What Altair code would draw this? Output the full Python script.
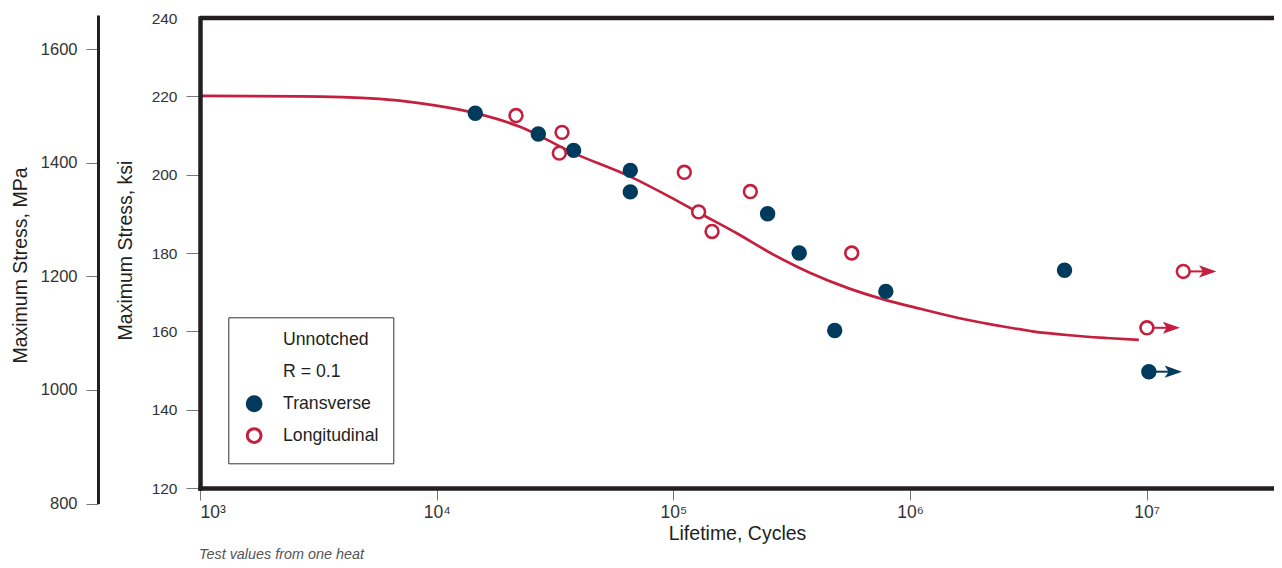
import altair as alt
import pandas as pd

# ---------------- data ----------------
transverse_cycles = [14560, 26880, 37900, 65780, 65780, 250200, 340200, 480600, 790200, 4496000]
transverse_ksi = [215.7, 210.4, 206.2, 201.1, 195.6, 190.0, 180.0, 160.2, 170.2, 175.6]
transverse_runout_cycles = [10210000]
transverse_runout_ksi = [149.7]

longitudinal_cycles = [21640, 33850, 32980, 111250, 127840, 145700, 211500, 567000]
longitudinal_ksi = [215.1, 210.8, 205.5, 200.6, 190.5, 185.5, 195.7, 180.0]
longitudinal_runout_cycles = [10020000, 14270000]
longitudinal_runout_ksi = [160.9, 175.3]

curve_cycles = [1000, 2628, 5722, 8445, 14560, 22340, 37900, 65780, 96140, 128800,
                184500, 264600, 379200, 543500, 778900, 1116000, 1600000, 2294000,
                3287000, 4711000, 6753000, 9265000]
curve_ksi = [220.1, 220.0, 219.35, 218.25, 215.7, 212.3, 205.5, 199.5, 194.4, 190.2,
             185.1, 179.6, 174.9, 171.1, 168.1, 165.7, 163.4, 161.6,
             160.0, 159.0, 158.3, 157.8]

x_ticks = [1e3, 1e4, 1e5, 1e6, 1e7]
ksi_ticks = [120, 140, 160, 180, 200, 220, 240]
mpa_ticks = [800, 1000, 1200, 1400, 1600]
legend_entries = ["Unnotched", "R = 0.1", "Transverse", "Longitudinal"]
footnote = "Test values from one heat"

# ---------------- styling / layout ----------------
NAVY = "#003a5d"
RED = "#c41f3e"
INK = "#231f20"
TICK = "#777777"
LABEL = "#333333"
FONT = "Liberation Sans, Arial, sans-serif"

W, H = 1074, 470
X_MAX = 3.45e7
KSI_DOMAIN = [120, 240]
KSI_TO_MPA = 6.894757
MPA_DOMAIN = [800, 1660]


def ksi_px(k):
    return H * (KSI_DOMAIN[1] - k) / (KSI_DOMAIN[1] - KSI_DOMAIN[0])


mpa_range = [ksi_px(MPA_DOMAIN[0] / KSI_TO_MPA), ksi_px(MPA_DOMAIN[1] / KSI_TO_MPA)]

# ---------------- tables ----------------
rows = []
for c, k in zip(transverse_cycles, transverse_ksi):
    rows.append({"cycles": c, "ksi": k, "orientation": "Transverse"})
for c, k in zip(transverse_runout_cycles, transverse_runout_ksi):
    rows.append({"cycles": c, "ksi": k, "orientation": "Transverse"})
for c, k in zip(longitudinal_cycles, longitudinal_ksi):
    rows.append({"cycles": c, "ksi": k, "orientation": "Longitudinal"})
for c, k in zip(longitudinal_runout_cycles, longitudinal_runout_ksi):
    rows.append({"cycles": c, "ksi": k, "orientation": "Longitudinal"})
points_df = pd.DataFrame(rows)

run_rows = []
for c, k in zip(transverse_runout_cycles, transverse_runout_ksi):
    run_rows.append({"cycles": c, "ksi": k, "orientation": "Transverse"})
for c, k in zip(longitudinal_runout_cycles, longitudinal_runout_ksi):
    run_rows.append({"cycles": c, "ksi": k, "orientation": "Longitudinal"})
runout_df = pd.DataFrame(run_rows)

curve_df = pd.DataFrame({"cycles": curve_cycles, "ksi": curve_ksi})
frame_df = pd.DataFrame({"cycles": [1000], "cycles_end": [X_MAX], "ksi": [KSI_DOMAIN[1]]})
note_df = pd.DataFrame({"note": [footnote]})
mpa_df = pd.DataFrame({"cycles": [1000, 1000], "mpa": MPA_DOMAIN})

# ---------------- scales / axes ----------------
x_scale = alt.Scale(type="log", domain=[1000, X_MAX], nice=False)
y_scale = alt.Scale(domain=KSI_DOMAIN, nice=False, zero=False)

x_axis = alt.Axis(
    values=x_ticks,
    labelExpr="'10' + ['\u00b3','\u2074','\u2075','\u2076','\u2077'][round(log(datum.value)/LN10) - 3]",
    title="Lifetime, Cycles", grid=False,
    domainColor=INK, domainWidth=4.5, domainCap="square",
    tickColor=TICK, tickSize=12, tickWidth=1,
    labelFont=FONT, labelFontSize=17.5, labelColor=LABEL, labelPadding=3, labelFlush=True,
    titleFont=FONT, titleFontSize=19.5, titleFontWeight="normal", titleColor=INK,
    titleBaseline="alphabetic", titleY=51, zindex=1,
)
y_axis = alt.Axis(
    values=ksi_ticks, title="Maximum Stress, ksi", grid=False,
    domainColor=INK, domainWidth=4.5, domainCap="square",
    tickColor=TICK, tickSize=14, tickWidth=1,
    tickOpacity=alt.ExprRef(expr="datum.value >= 240 ? 0 : 1"),
    labelFont=FONT, labelFontSize=15.5, labelColor=LABEL, labelPadding=9,
    titleFont=FONT, titleFontSize=19.5, titleFontWeight="normal", titleColor=INK,
    titleAngle=270, titleBaseline="alphabetic", titleAlign="center",
    titleX=-68.3, titleY=232, zindex=1,
)
mpa_axis = alt.Axis(
    orient="left", offset=102, values=mpa_ticks, format="d",
    title="Maximum Stress, MPa", grid=False,
    domainColor=INK, domainWidth=3,
    tickColor=TICK, tickSize=12, tickWidth=1,
    labelFont=FONT, labelFontSize=16.5, labelColor=LABEL, labelPadding=9,
    titleFont=FONT, titleFontSize=19.5, titleFontWeight="normal", titleColor=INK,
    titleAngle=270, titleBaseline="alphabetic", titleAlign="center",
    titleX=-71.3, titleY=247,
)

X = alt.X("cycles:Q", scale=x_scale, axis=x_axis)
Y = alt.Y("ksi:Q", scale=y_scale, axis=y_axis)

leg = alt.Legend(
    title=None, orient="none", legendX=28.3, legendY=299.3,
    fillColor="white", strokeColor="#333333", padding=14, rowPadding=4.8,
    symbolType="circle", symbolSize=190, symbolStrokeWidth=3, symbolOffset=3,
    labelOffset=20, labelFont=FONT, labelFontSize=17.7, labelColor=INK, labelLimit=300,
)
fill_scale = alt.Scale(domain=legend_entries, range=["transparent", "transparent", NAVY, "#ffffff"])
stroke_scale = alt.Scale(domain=legend_entries, range=["transparent", "transparent", NAVY, RED])
arrow_scale = alt.Scale(domain=["Transverse", "Longitudinal"], range=[NAVY, RED])

# ---------------- layers ----------------
frame_top = alt.Chart(frame_df).mark_rule(color=INK, strokeWidth=4.5).encode(
    x=X, x2="cycles_end:Q", y=Y
)

curve = alt.Chart(curve_df).mark_line(color=RED, strokeWidth=2.7, interpolate="monotone").encode(
    x=X, y=Y
)

arrow_base = alt.Chart(runout_df).transform_calculate(arrow_end="datum.cycles * 1.269")
arrow_rules = arrow_base.mark_rule(strokeWidth=2).encode(
    x=X, x2="arrow_end:Q", y=Y,
    color=alt.Color("orientation:N", scale=arrow_scale, legend=None),
)
arrow_heads = arrow_base.mark_point(
    shape="M1,0L-1,-0.7L-0.55,0L-1,0.7Z", size=300, filled=True, opacity=1, strokeWidth=0
).encode(
    x=alt.X("arrow_end:Q", scale=x_scale, axis=x_axis), y=Y,
    color=alt.Color("orientation:N", scale=arrow_scale, legend=None),
)

points = alt.Chart(points_df).mark_point(
    shape="circle", size=165, strokeWidth=2.6, opacity=1
).encode(
    x=X, y=Y,
    fill=alt.Fill("orientation:N", scale=fill_scale, legend=leg),
    stroke=alt.Stroke("orientation:N", scale=stroke_scale, legend=leg),
)

note = alt.Chart(note_df).mark_text(
    align="left", baseline="alphabetic", font=FONT, fontSize=14.4, fontStyle="italic", color="#555555"
).encode(text="note:N", x=alt.value(-1), y=alt.value(540.5))

ksi_group = alt.layer(frame_top, curve, arrow_rules, arrow_heads, points, note)

mpa_layer = alt.Chart(mpa_df).mark_point(opacity=0).encode(
    x=X,
    y=alt.Y("mpa:Q", scale=alt.Scale(domain=MPA_DOMAIN, range=mpa_range, nice=False, zero=False), axis=mpa_axis),
)

chart = (
    alt.layer(ksi_group, mpa_layer)
    .resolve_scale(y="independent")
    .properties(
        width=W, height=H,
        autosize=alt.AutoSizeParams(type="none"),
        padding={"left": 192, "top": 10, "right": 0, "bottom": 72},
        background="white",
    )
    .configure_view(stroke=None)
)

chart.save("out.html", embed_options={"renderer": "svg", "actions": False})
